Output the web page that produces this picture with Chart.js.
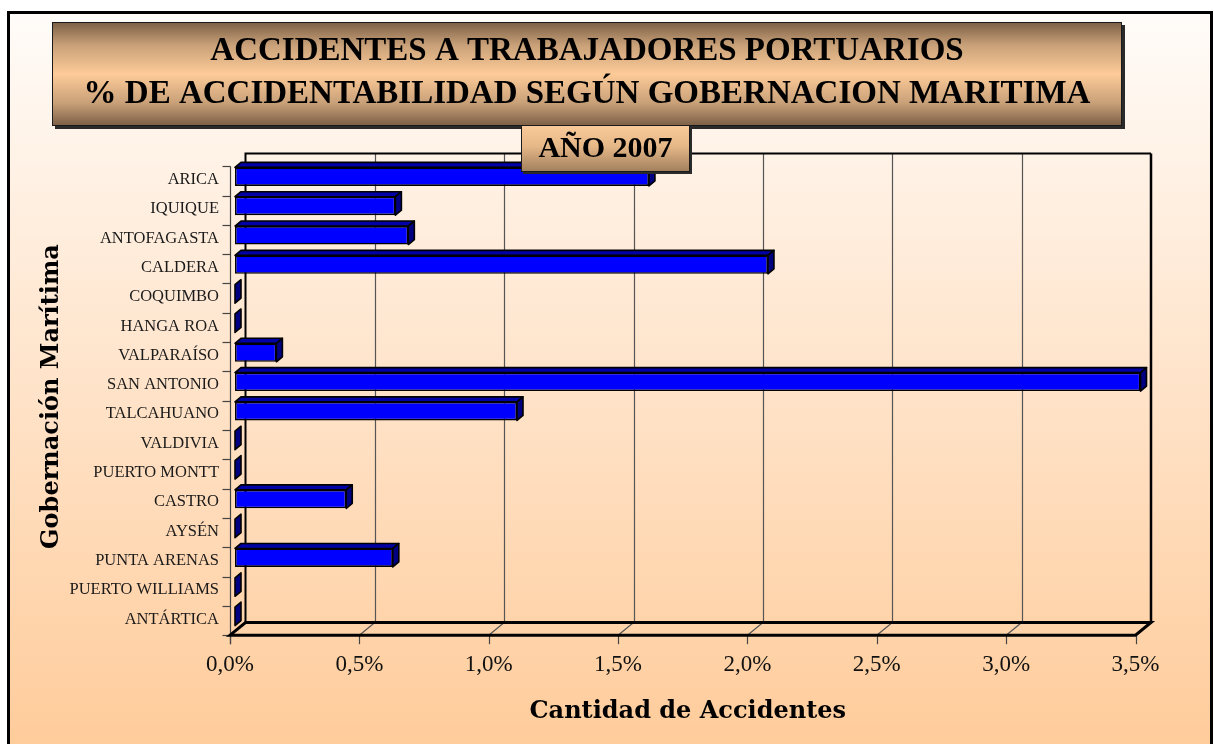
<!DOCTYPE html>
<html><head><meta charset="utf-8">
<script src="https://cdn.jsdelivr.net/npm/chart.js@4.4.0/dist/chart.umd.min.js"></script>
<style>html,body{margin:0;padding:0;background:#fff;}canvas{display:block;}</style>
</head><body>
<canvas id="c" width="1214" height="744"></canvas>
<script>
const titleLines = ['ACCIDENTES A TRABAJADORES PORTUARIOS', '% DE ACCIDENTABILIDAD SEGÚN GOBERNACION MARITIMA'];
const yearLabel = 'AÑO 2007';
const categories = ['ARICA','IQUIQUE','ANTOFAGASTA','CALDERA','COQUIMBO','HANGA ROA','VALPARAÍSO','SAN ANTONIO','TALCAHUANO','VALDIVIA','PUERTO MONTT','CASTRO','AYSÉN','PUNTA ARENAS','PUERTO WILLIAMS','ANTÁRTICA'];
const accidentPct = [1.60, 0.62, 0.67, 2.06, 0, 0, 0.16, 3.50, 1.09, 0, 0, 0.43, 0, 0.61, 0, 0];
const xTickValues = [0, 0.5, 1.0, 1.5, 2.0, 2.5, 3.0, 3.5];
const xTitle = 'Cantidad de Accidentes';
const yTitle = 'Gobernación Marítima';

// 3D projection offsets (pixels) relative to the bar front plane
const FRONT = {x: -5, y: 4.2};
const BACK = {x: 10.5, y: -8.5};
const BAR_DEPTH = {x: 6, y: -5};

const bgPlugin = {
  id: 'bg',
  beforeDraw(chart) {
    const ctx = chart.ctx, W = chart.width, H = chart.height;
    ctx.save();
    ctx.fillStyle = '#ffffff';
    ctx.fillRect(0, 0, W, H);
    const g = ctx.createLinearGradient(0, 12, 0, H);
    g.addColorStop(0, '#fffcf9');
    g.addColorStop(0.45, '#ffe6cf');
    g.addColorStop(1, '#ffcc9b');
    ctx.fillStyle = g;
    ctx.fillRect(8, 12, W - 10, H - 12);
    ctx.strokeStyle = '#000';
    ctx.lineWidth = 3;
    ctx.beginPath();
    ctx.moveTo(8.5, H + 5); ctx.lineTo(8.5, 12.5); ctx.lineTo(1211.5, 12.5); ctx.lineTo(1211.5, H + 5);
    ctx.stroke();
    ctx.restore();
  }
};

const framePlugin = {
  id: 'frame3d',
  beforeDatasetsDraw(chart) {
    const ctx = chart.ctx, xs = chart.scales.x, ys = chart.scales.y, a = chart.chartArea;
    const x0 = xs.getPixelForValue(xTickValues[0]);
    const xN = xs.getPixelForValue(xTickValues[xTickValues.length - 1]);
    ctx.save();
    ctx.strokeStyle = '#555';
    ctx.lineWidth = 1.2;
    xTickValues.forEach((v, i) => {
      if (i === 0 || i === xTickValues.length - 1) return;
      const px = Math.round(xs.getPixelForValue(v) + BACK.x) + 0.5;
      ctx.beginPath();
      ctx.moveTo(px, a.top + BACK.y); ctx.lineTo(px, a.bottom + BACK.y);
      ctx.stroke();
    });
    xTickValues.forEach((v, i) => {
      if (i === 0 || i === xTickValues.length - 1) return;
      const px = xs.getPixelForValue(v);
      ctx.beginPath();
      ctx.moveTo(px + FRONT.x, a.bottom + FRONT.y); ctx.lineTo(px + BACK.x, a.bottom + BACK.y);
      ctx.stroke();
    });
    ctx.strokeStyle = '#444';
    xTickValues.forEach(v => {
      const px = Math.round(xs.getPixelForValue(v) + FRONT.x) + 0.5;
      ctx.beginPath();
      ctx.moveTo(px, a.bottom + FRONT.y); ctx.lineTo(px, a.bottom + FRONT.y + 9);
      ctx.stroke();
    });
    const lx = Math.round(x0 + FRONT.x) + 0.5;
    ctx.beginPath();
    ctx.moveTo(lx, a.top + FRONT.y); ctx.lineTo(lx, a.bottom + FRONT.y + 9);
    ctx.stroke();
    for (let i = 0; i <= categories.length; i++) {
      const py = Math.round(ys.getPixelForValue(i - 0.5) + FRONT.y) + 0.5;
      ctx.beginPath();
      ctx.moveTo(lx - 8, py); ctx.lineTo(lx, py);
      ctx.stroke();
    }
    ctx.strokeStyle = '#000';
    ctx.lineWidth = 2;
    ctx.beginPath();
    ctx.moveTo(x0 + BACK.x, a.bottom + BACK.y);
    ctx.lineTo(x0 + BACK.x, a.top + BACK.y);
    ctx.lineTo(xN + BACK.x, a.top + BACK.y);
    ctx.stroke();
    ctx.lineWidth = 2.5;
    ctx.beginPath();
    ctx.moveTo(xN + BACK.x, a.top + BACK.y);
    ctx.lineTo(xN + BACK.x, a.bottom + BACK.y);
    ctx.stroke();
    ctx.lineWidth = 3;
    ctx.beginPath();
    ctx.moveTo(x0 + FRONT.x, a.bottom + FRONT.y);
    ctx.lineTo(xN + FRONT.x, a.bottom + FRONT.y);
    ctx.lineTo(xN + BACK.x, a.bottom + BACK.y);
    ctx.lineTo(x0 + BACK.x, a.bottom + BACK.y);
    ctx.closePath();
    ctx.stroke();
    ctx.restore();
  },
  afterDatasetsDraw(chart) {
    const ctx = chart.ctx;
    const meta = chart.getDatasetMeta(0);
    ctx.save();
    ctx.strokeStyle = '#000';
    ctx.lineWidth = 1.6;
    ctx.lineJoin = 'round';
    meta.data.forEach(el => {
      const p = el.getProps(['x', 'y', 'base', 'height'], true);
      const left = Math.min(p.x, p.base), right = Math.max(p.x, p.base);
      const top = p.y - p.height / 2, bottom = p.y + p.height / 2;
      const dx = BAR_DEPTH.x, dy = BAR_DEPTH.y;
      if (right - left > 1) {
        ctx.fillStyle = '#0000a6';
        ctx.beginPath();
        ctx.moveTo(left, top); ctx.lineTo(left + dx, top + dy);
        ctx.lineTo(right + dx, top + dy); ctx.lineTo(right, top);
        ctx.closePath(); ctx.fill(); ctx.stroke();
      }
      ctx.fillStyle = '#000080';
      ctx.beginPath();
      ctx.moveTo(right, top); ctx.lineTo(right + dx, top + dy);
      ctx.lineTo(right + dx, bottom + dy); ctx.lineTo(right, bottom);
      ctx.closePath(); ctx.fill(); ctx.stroke();
    });
    ctx.restore();
  }
};

const titlePlugin = {
  id: 'titleBoxes',
  afterDraw(chart) {
    const ctx = chart.ctx;
    ctx.save();
    const bx = 52, by = 22, bw = 1070, bh = 104;
    ctx.fillStyle = '#2a2a2a';
    ctx.fillRect(bx + 3, by + 3, bw, bh);
    let g = ctx.createLinearGradient(0, by, 0, by + bh);
    g.addColorStop(0, '#7a5e45');
    g.addColorStop(0.22, '#c8a078');
    g.addColorStop(0.5, '#fdcb98');
    g.addColorStop(0.78, '#c8a078');
    g.addColorStop(1, '#7a5e45');
    ctx.fillStyle = g;
    ctx.fillRect(bx, by, bw, bh);
    ctx.strokeStyle = '#1a1a1a';
    ctx.lineWidth = 1;
    ctx.strokeRect(bx + 0.5, by + 0.5, bw - 1, bh - 1);
    ctx.fillStyle = '#000';
    ctx.textAlign = 'center';
    ctx.textBaseline = 'middle';
    ctx.font = 'bold 33px "Liberation Serif", "DejaVu Serif", serif';
    ctx.fillText(titleLines[0], bx + bw / 2, 51);
    ctx.fillText(titleLines[1], bx + bw / 2, 94);
    const yx = 521, yy = 125, yw = 169, yh = 47;
    ctx.fillStyle = '#2a2a2a';
    ctx.fillRect(yx + 2, yy + 2, yw, yh);
    g = ctx.createLinearGradient(0, yy, 0, yy + yh);
    g.addColorStop(0, '#f9cb9a');
    g.addColorStop(0.45, '#e6b888');
    g.addColorStop(1, '#a07e5c');
    ctx.fillStyle = g;
    ctx.fillRect(yx, yy, yw, yh);
    ctx.strokeRect(yx + 0.5, yy + 0.5, yw - 1, yh - 1);
    ctx.fillStyle = '#000';
    ctx.font = 'bold 30px "Liberation Serif", "DejaVu Serif", serif';
    ctx.fillText(yearLabel, yx + yw / 2, yy + yh / 2 + 1);
    ctx.restore();
  }
};

new Chart(document.getElementById('c'), {
  type: 'bar',
  data: {
    labels: categories,
    datasets: [{
      label: '% accidentabilidad',
      data: accidentPct,
      backgroundColor: '#0000ff',
      borderColor: '#000000',
      borderWidth: 1.6,
      borderSkipped: false,
      barPercentage: 0.63,
      categoryPercentage: 1.0
    }]
  },
  options: {
    indexAxis: 'y',
    responsive: false,
    devicePixelRatio: 1,
    animation: false,
    layout: {padding: {left: 0, top: 162, right: 73.5, bottom: 0}},
    plugins: {legend: {display: false}, title: {display: false}, tooltip: {enabled: false}},
    scales: {
      x: {
        type: 'linear', min: 0, max: 3.5,
        afterFit(s) { s.height = 744 - 631; },
        afterBuildTicks(s) { s.ticks = xTickValues.map(v => ({value: v})); },
        grid: {display: false, drawTicks: false},
        border: {display: false},
        ticks: {
          padding: 20, labelOffset: -5, color: '#111',
          font: {family: '"Liberation Serif", serif', size: 23},
          callback: v => v.toFixed(1).replace('.', ',') + '%'
        },
        title: {
          display: true, text: xTitle, color: '#000',
          font: {family: '"DejaVu Serif", serif', weight: 'bold', size: 24},
          padding: {top: 0, bottom: 17.5}
        }
      },
      y: {
        type: 'category',
        afterFit(s) { s.width = 235; },
        grid: {display: false, drawTicks: false},
        border: {display: false},
        ticks: {
          padding: 16, labelOffset: 3, color: '#1a1a1a', autoSkip: false,
          font: {family: '"Liberation Serif", serif', size: 16.5}
        },
        title: {
          display: true, text: yTitle, color: '#000',
          font: {family: '"DejaVu Serif", serif', weight: 'bold', size: 24},
          padding: {top: 37.5, bottom: 0}
        }
      }
    }
  },
  plugins: [bgPlugin, framePlugin, titlePlugin]
});
</script>
</body></html>
